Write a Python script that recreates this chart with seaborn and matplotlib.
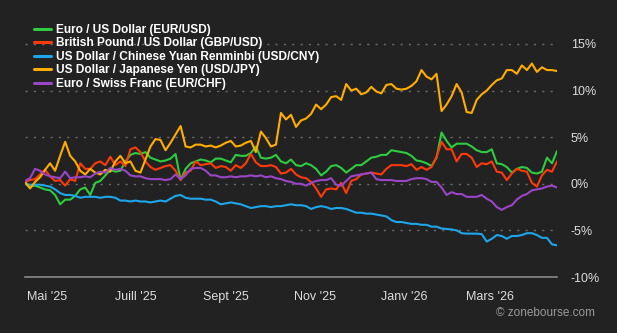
import numpy as np
import pandas as pd
import matplotlib
matplotlib.use("Agg")
import matplotlib.pyplot as plt
import seaborn as sns

# ---- data (percent change since start) ----
series_names = [
    "Euro / US Dollar (EUR/USD)",
    "British Pound / US Dollar (GBP/USD)",
    "US Dollar / Chinese Yuan Renminbi (USD/CNY)",
    "US Dollar / Japanese Yen (USD/JPY)",
    "Euro / Swiss Franc (EUR/CHF)",
]
series_colors = ["#2ecc40", "#ff3a0a", "#1ea6ea", "#ffad00", "#9b45c8"]

eur_usd = [0.0, -0.3, -0.2, -0.4, -0.6, -0.7, -1.2, -2.2, -1.7, -1.7,
           -1.3, -0.6, -0.4, -1.2, 0.1, 0.3, 0.9, 1.5, 1.3, 1.4,
           2.4, 3.1, 3.3, 3.2, 3.4, 2.8, 2.6, 2.4, 2.5, 2.7,
           3.2, 0.4, 1.6, 2.2, 2.4, 2.6, 2.5, 2.3, 2.7, 2.7,
           2.5, 2.3, 3.1, 3.0, 3.0, 3.3, 4.0, 2.8, 2.7, 2.8,
           3.1, 2.4, 2.2, 2.6, 2.0, 1.9, 2.2, 2.0, 1.6, 0.9,
           1.3, 1.9, 2.0, 1.7, 1.2, 1.6, 2.0, 2.0, 2.4, 2.8,
           2.9, 3.1, 3.1, 3.6, 3.5, 3.4, 3.3, 3.0, 2.5, 2.4,
           2.2, 1.9, 2.8, 5.5, 4.6, 3.9, 4.3, 4.3, 4.3, 4.0,
           3.6, 3.4, 3.4, 3.7, 2.2, 2.1, 1.8, 1.2, 1.6, 1.8,
           1.7, 1.2, 1.1, 1.3, 2.8, 2.2, 3.5]

gbp_usd = [0.2, 0.4, 0.5, 1.0, 1.5, 0.8, 0.3, 0.4, -0.2, 0.5,
           0.3, 2.2, 1.6, 1.6, 2.2, 2.4, 2.0, 2.9, 2.0, 2.4,
           1.9, 3.7, 3.9, 3.4, 2.4, 1.8, 1.5, 1.7, 1.9, 2.0,
           1.4, 0.4, 1.2, 1.4, 2.4, 2.0, 2.1, 2.2, 1.7, 1.9,
           1.8, 1.4, 2.0, 1.7, 2.2, 3.2, 2.3, 1.9, 1.9, 2.0,
           1.8, 1.1, 1.2, 1.6, 1.0, 0.7, 0.6, 0.2, -0.5, -1.4,
           -0.6, -0.5, -0.6, 0.1, -1.0, 0.3, 0.5, 1.0, 1.1, 1.2,
           1.1, 1.0, 1.6, 2.0, 2.0, 2.0, 1.9, 2.1, 1.5, 1.8,
           1.5, 1.8, 2.9, 4.5, 3.7, 3.7, 2.4, 3.2, 3.2, 2.8,
           1.8, 2.2, 2.1, 2.4, 1.3, 1.2, 0.4, 1.1, 1.6, 1.4,
           1.3, 0.1, -0.3, 0.9, 1.5, 1.3, 2.4]

usd_cny = [0.0, -0.1, -0.1, -0.1, -0.2, -0.3, -0.6, -1.0, -1.2, -1.2,
           -1.3, -1.5, -1.4, -1.4, -1.4, -1.5, -1.4, -1.4, -1.5, -1.8,
           -1.8, -1.9, -1.8, -1.9, -1.9, -2.0, -1.9, -1.8, -1.9, -1.6,
           -1.3, -1.2, -1.5, -1.6, -1.6, -1.6, -1.7, -1.7, -1.9, -2.2,
           -2.1, -2.0, -2.1, -2.2, -2.4, -2.6, -2.5, -2.4, -2.4, -2.5,
           -2.4, -2.4, -2.3, -2.2, -2.3, -2.3, -2.4, -2.7, -2.5, -2.4,
           -2.5, -2.7, -2.6, -2.6, -2.7, -2.9, -3.1, -3.1, -3.2, -3.2,
           -3.3, -3.4, -3.5, -3.9, -4.1, -4.1, -4.2, -4.3, -4.3, -4.4,
           -4.4, -4.6, -4.6, -4.8, -4.85, -4.9, -5.0, -5.3, -5.35, -5.35,
           -5.35, -5.4, -6.2, -5.9, -5.5, -5.6, -5.9, -5.6, -5.6, -5.5,
           -5.3, -5.3, -5.5, -5.8, -5.8, -6.5, -6.6]

usd_jpy = [0.2, -0.5, 0.2, 0.7, 1.5, 2.2, 1.4, 3.0, 4.5, 3.0,
           2.4, 1.4, 1.0, 1.6, 1.2, 1.0, 1.5, 1.3, 2.4, 3.0,
           2.2, 2.4, 1.4, 1.2, 2.6, 4.0, 4.8, 4.7, 3.6, 4.4,
           5.3, 6.2, 4.0, 3.9, 4.2, 4.2, 4.0, 4.1, 3.9, 4.1,
           4.4, 4.6, 4.0, 4.1, 4.4, 4.6, 3.4, 5.6, 4.9, 4.0,
           4.2, 7.6, 6.9, 7.4, 6.1, 6.8, 7.0, 7.5, 8.5, 8.0,
           8.5, 9.3, 9.4, 9.0, 10.7, 10.0, 10.2, 9.6, 9.8, 10.4,
           9.9, 9.7, 10.6, 10.7, 10.2, 10.1, 10.2, 10.5, 11.0, 12.2,
           11.5, 11.2, 11.8, 7.8, 8.5, 9.4, 10.7, 9.8, 7.7, 7.6,
           9.0, 9.6, 10.0, 10.6, 11.1, 11.3, 12.2, 12.2, 11.8, 12.7,
           12.2, 12.9, 12.0, 12.5, 12.2, 12.2, 12.1]

eur_chf = [0.3, 0.6, 1.6, 1.4, 1.0, 0.8, 0.7, 0.6, 1.3, 0.6,
           0.7, 0.7, 0.8, 0.7, 1.1, 1.3, 1.2, 1.7, 1.5, 1.6,
           1.4, 0.9, 0.8, 0.8, 0.6, 0.5, 0.5, 0.5, 0.4, 0.5,
           1.0, 0.5, 0.9, 1.6, 1.7, 1.7, 1.4, 0.9, 0.9, 0.7,
           0.7, 0.8, 0.7, 0.8, 0.8, 0.9, 0.8, 0.9, 0.7, 0.8,
           0.6, 0.5, 0.3, 0.2, 0.0, 0.0, -0.2, 0.1, 0.3, 0.4,
           0.4, 0.6, -0.1, -0.2, 0.3, 0.8, 0.9, 1.0, 1.1, 1.2,
           0.5, 0.4, 0.4, 0.4, 0.3, 0.3, 0.3, 0.5, 0.6, 0.6,
           0.5, 0.2, 0.2, -0.4, -1.2, -0.9, -1.1, -1.1, -1.4, -1.4,
           -1.4, -1.2, -1.6, -1.9, -2.5, -2.8, -2.5, -2.3, -1.7, -1.3,
           -1.1, -0.7, -0.6, -0.5, -0.3, -0.2, -0.4]

dates = pd.date_range("2025-04-16", "2026-04-16", periods=len(eur_usd))

tick_dates = pd.to_datetime(["2025-05-01", "2025-07-01", "2025-09-01",
                             "2025-11-01", "2026-01-01", "2026-03-01"])
tick_labels = ["Mai '25", "Juill '25", "Sept '25", "Nov '25", "Janv '26", "Mars '26"]
y_ticks = [-10, -5, 0, 5, 10, 15]
y_labels = ["-10%", "-5%", "0%", "5%", "10%", "15%"]

frames = []
for name, vals in zip(series_names, [eur_usd, gbp_usd, usd_cny, usd_jpy, eur_chf]):
    frames.append(pd.DataFrame({"date": dates, "value": vals, "series": name}))
df = pd.concat(frames, ignore_index=True)

# ---- style ----
BG = "#222222"
sns.set_style("dark", {"axes.facecolor": BG, "figure.facecolor": BG})
plt.rcParams["font.family"] = ["Liberation Sans", "DejaVu Sans"]

fig = plt.figure(figsize=(6.17, 3.33), dpi=100)
fig.patch.set_facecolor(BG)
ax = fig.add_axes([25 / 617, 1 - 277 / 333, (557 - 25) / 617, (277 - 16) / 333])
ax.set_facecolor(BG)

for yv in [-5, 0, 5, 10, 15]:
    ax.axhline(yv, color="#6a6a6a", lw=1.0, ls=(0, (1.6, 4.4)), zorder=1)

sns.lineplot(data=df, x="date", y="value", hue="series", hue_order=series_names,
             palette=series_colors, linewidth=1.5, ax=ax, zorder=3, legend=True)

ax.set_xlim(dates[0], dates[-1])
ax.set_ylim(-10, 18)
ax.set_xlabel("")
ax.set_ylabel("")

for s in ["top", "right", "left"]:
    ax.spines[s].set_visible(False)
ax.spines["bottom"].set_color("#8a8a8a")
ax.spines["bottom"].set_linewidth(1.2)
ax.grid(False)

ax.set_xticks(tick_dates)
ax.set_xticklabels(tick_labels)
ax.tick_params(axis="x", colors="#8a8a8a", length=3, width=1, labelcolor="#dddddd",
               labelsize=9, pad=7, direction="out")
ax.yaxis.tick_right()
ax.set_yticks(y_ticks)
ax.set_yticklabels(y_labels)
ax.tick_params(axis="y", length=0, labelcolor="#dddddd", labelsize=9, pad=10)

leg = ax.legend(loc="upper left", bbox_to_anchor=(29 / 617, 1 - 19 / 333),
                bbox_transform=fig.transFigure, frameon=False,
                handlelength=1.4, handletextpad=0.45, labelspacing=0.13,
                borderaxespad=0, prop={"weight": "bold", "size": 8.6})
for t in leg.get_texts():
    t.set_color("#ffffff")
for h in leg.get_lines():
    h.set_linewidth(2.2)

fig.text(595 / 617, 1 - 313 / 333, "\u00a9 zonebourse.com", color="#9a9a9a",
         fontsize=8.5, ha="right", va="center")

fig.savefig("out.png", dpi=100, facecolor=BG)
